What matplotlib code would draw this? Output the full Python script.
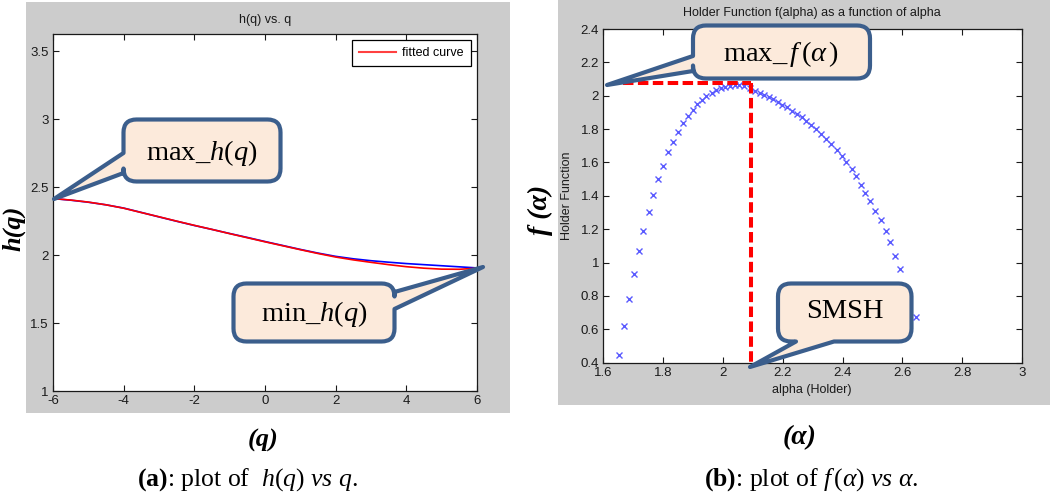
import numpy as np
import matplotlib
matplotlib.use('Agg')
import matplotlib.pyplot as plt
from matplotlib.path import Path
from matplotlib.patches import PathPatch, Rectangle
from matplotlib.ticker import FuncFormatter

plt.rcParams['mathtext.fontset'] = 'custom'
plt.rcParams['mathtext.rm'] = 'Liberation Serif'
plt.rcParams['mathtext.it'] = 'Liberation Serif:italic'
plt.rcParams['mathtext.bf'] = 'Liberation Serif:bold'
plt.rcParams['font.family'] = ['Liberation Sans', 'DejaVu Sans']
plt.rcParams['axes.unicode_minus'] = False

# ---------------- data ----------------
q_values = [-6, -5.5, -5, -4.5, -4, -3.5, -3, -2.5, -2, -1.5, -1, -0.5, 0,
            0.5, 1, 1.5, 2, 2.5, 3, 3.5, 4, 4.5, 5, 5.5, 6]
h_data = [2.415, 2.403, 2.388, 2.369, 2.345, 2.313, 2.280, 2.248, 2.217, 2.188, 2.158, 2.129, 2.099,
          2.070, 2.041, 2.014, 1.990, 1.972, 1.958, 1.947, 1.937, 1.929, 1.921, 1.913, 1.905]
h_fitted = [2.415, 2.404, 2.389, 2.369, 2.344, 2.312, 2.281, 2.249, 2.218, 2.188, 2.157, 2.127, 2.097,
            2.068, 2.039, 2.011, 1.985, 1.964, 1.946, 1.929, 1.914, 1.903, 1.896, 1.895, 1.903]

alpha_values = [1.651, 1.669, 1.686, 1.702, 1.718, 1.734, 1.752, 1.767, 1.784, 1.798,
                1.817, 1.834, 1.851, 1.866, 1.883, 1.900, 1.914, 1.930, 1.945, 1.962,
                1.977, 1.992, 2.008, 2.023, 2.039, 2.054, 2.070, 2.090, 2.107, 2.124,
                2.137, 2.153, 2.168, 2.184, 2.199, 2.215, 2.230, 2.248, 2.264, 2.279,
                2.296, 2.312, 2.328, 2.345, 2.361, 2.380, 2.397, 2.413, 2.430, 2.445,
                2.461, 2.474, 2.491, 2.508, 2.527, 2.545, 2.560, 2.577, 2.592, 2.644]
f_values = [0.446, 0.622, 0.780, 0.930, 1.068, 1.190, 1.302, 1.405, 1.500, 1.581,
            1.661, 1.723, 1.781, 1.835, 1.877, 1.917, 1.949, 1.977, 2.001, 2.019,
            2.035, 2.047, 2.055, 2.061, 2.063, 2.063, 2.059, 2.045, 2.031, 2.019,
            2.005, 1.995, 1.979, 1.963, 1.947, 1.931, 1.911, 1.893, 1.873, 1.851,
            1.827, 1.801, 1.773, 1.741, 1.711, 1.675, 1.639, 1.601, 1.559, 1.518,
            1.465, 1.420, 1.370, 1.311, 1.256, 1.191, 1.122, 1.041, 0.960, 0.676]

alpha_peak = 2.095      # SMSH
f_peak = 2.079          # max f(alpha)
alpha_guide_start = 1.666
f_guide_end = 0.366

h_xticks = [-6, -4, -2, 0, 2, 4, 6]
h_yticks = [1, 1.5, 2, 2.5, 3, 3.5]
f_xticks = [1.6, 1.8, 2.0, 2.2, 2.4, 2.6, 2.8, 3.0]
f_yticks = [0.4, 0.6, 0.8, 1.0, 1.2, 1.4, 1.6, 1.8, 2.0, 2.2, 2.4]

# ---------------- layout ----------------
W, H = 1050, 499
fig = plt.figure(figsize=(W / 100, H / 100), dpi=100)


def fx(px):
    return px / W


def fy(py):
    return 1 - py / H


def panel(x0, y0, x1, y1):
    fig.patches.append(Rectangle((fx(x0), fy(y1)), fx(x1) - fx(x0), fy(y0) - fy(y1),
                                 transform=fig.transFigure, facecolor='#CCCCCC',
                                 edgecolor='none', zorder=-5))


panel(26, 2, 510, 413)
panel(558, 0, 1050, 405)

ax1 = fig.add_axes([fx(53), fy(391), fx(477) - fx(53), fy(34) - fy(391)])
ax2 = fig.add_axes([fx(603.3), fy(362.7), fx(1022) - fx(603.3), fy(29) - fy(362.7)])

fmt = FuncFormatter(lambda v, p: '%g' % round(v, 3))
for ax in (ax1, ax2):
    ax.set_zorder(1)
    ax.set_facecolor('white')
    ax.tick_params(direction='in', top=True, right=True, length=4, width=0.8,
                   labelsize=9.5, pad=3, colors='#1a1a1a')
    for s in ax.spines.values():
        s.set_linewidth(0.9)
        s.set_color('#1a1a1a')
    ax.xaxis.set_major_formatter(fmt)
    ax.yaxis.set_major_formatter(fmt)

# left plot
ax1.plot(q_values, h_data, color='#0000FF', lw=1.2)
red_line, = ax1.plot(q_values, h_fitted, color='#FF0000', lw=1.2)
ax1.set_xlim(-6, 6)
ax1.set_ylim(1, 3.625)
ax1.set_xticks(h_xticks)
ax1.set_yticks(h_yticks)
leg = ax1.legend([red_line], ['fitted curve'], loc='upper right', fancybox=False,
                 edgecolor='black', framealpha=1, fontsize=9, handlelength=3.0,
                 borderaxespad=0.5, borderpad=0.55, handletextpad=0.5)
leg.get_frame().set_linewidth(0.9)
for l in leg.get_lines():
    l.set_color('#FF4040')
    l.set_linewidth(1.5)

# right plot
ax2.plot(alpha_values, f_values, linestyle='none', marker='x', color='#5A5AFF',
         markersize=5, markeredgewidth=1.0)
ax2.plot([alpha_guide_start, alpha_peak], [f_peak, f_peak], color='#FF0000', lw=2.9,
         dashes=(2.6, 1.1), clip_on=False, zorder=5)
ax2.plot([alpha_peak, alpha_peak], [f_peak, f_guide_end], color='#FF0000', lw=2.9,
         dashes=(2.6, 1.1), clip_on=False, zorder=5)
ax2.set_xlim(1.6, 3.0)
ax2.set_ylim(0.4, 2.4)
ax2.set_xticks(f_xticks)
ax2.set_yticks(f_yticks)

# overlay in pixel coordinates
ov = fig.add_axes([0, 0, 1, 1])
ov.set_xlim(0, W)
ov.set_ylim(H, 0)
ov.axis('off')
ov.set_zorder(10)
ov.patch.set_alpha(0)


def callout(x0, y0, x1, y1, r, side, b1, b2, tip):
    verts, codes = [], []

    def move(p):
        verts.append(p); codes.append(Path.MOVETO)

    def line(p):
        verts.append(p); codes.append(Path.LINETO)

    def curve(c, p):
        verts.extend([c, p]); codes.extend([Path.CURVE3, Path.CURVE3])

    move((x0 + r, y0))
    if side == 'top':
        line((b1, y0)); line(tip); line((b2, y0))
    line((x1 - r, y0)); curve((x1, y0), (x1, y0 + r))
    if side == 'right':
        line((x1, b1)); line(tip); line((x1, b2))
    line((x1, y1 - r)); curve((x1, y1), (x1 - r, y1))
    if side == 'bottom':
        line((b2, y1)); line(tip); line((b1, y1))
    line((x0 + r, y1)); curve((x0, y1), (x0, y1 - r))
    if side == 'left':
        line((x0, b2)); line(tip); line((x0, b1))
    line((x0, y0 + r)); curve((x0, y0), (x0 + r, y0))
    verts.append((x0 + r, y0)); codes.append(Path.CLOSEPOLY)
    ov.add_patch(PathPatch(Path(verts, codes), facecolor='#FCEADB', edgecolor='#3B5E8C',
                           lw=3.0, joinstyle='round', zorder=5))


serif = 'Liberation Serif'
callout(123.5, 119.5, 280.5, 181.5, 13, 'left', 153, 173, (54, 199))
ov.text(202, 153, r'max_$h(q)$', fontsize=20.5, family=serif, ha='center', va='center', zorder=6)

callout(233.5, 283.5, 394.5, 341.5, 13, 'right', 292, 309, (483, 267))
ov.text(314, 314, r'min_$h(q)$', fontsize=20.5, family=serif, ha='center', va='center', zorder=6)

callout(693, 25.5, 870, 78.5, 13, 'left', 56, 71, (607, 85))
ov.text(781, 54, r'max_$\,f\,(\alpha\,)$', fontsize=20.5, family=serif, ha='center',
        va='center', zorder=6)

callout(778, 283.5, 911.5, 341.5, 13, 'bottom', 796, 834, (750, 367))
ov.text(845, 312, 'SMSH', fontsize=20.5, family=serif, ha='center', va='center', zorder=6)

# titles and axis labels (MATLAB panel text)
ov.text(265, 20, 'h(q) vs. q', fontsize=9, ha='center', va='center', color='#1a1a1a')
ov.text(812, 13, 'Holder Function f(alpha) as a function of alpha', fontsize=9,
        ha='center', va='center', color='#1a1a1a')
ov.text(567, 196, 'Holder Function', fontsize=9, rotation=90, ha='center', va='center',
        color='#1a1a1a')
ov.text(812, 390, 'alpha (Holder)', fontsize=9, ha='center', va='center', color='#1a1a1a')

# outer labels
ov.text(14, 228, 'h(q)', fontsize=19, family=serif, weight='bold', style='italic',
        rotation=90, ha='center', va='center')
ov.text(540, 210, 'f (α)', fontsize=20, family=serif, weight='bold', style='italic',
        rotation=90, ha='center', va='center')
ov.text(263, 440, '(q)', fontsize=19, family=serif, weight='bold', style='italic',
        ha='center', va='center')
ov.text(800, 438, '(α)', fontsize=20, family=serif, weight='bold', style='italic',
        ha='center', va='center')

# captions
ov.text(247, 480, r'$\mathbf{(a)}$: plot of  $h(q)\ vs\ q$.', fontsize=18.5, family=serif,
        ha='center', va='center')
ov.text(811, 480, r'$\mathbf{(b)}$: plot of $f\,(\alpha)\ vs\ \alpha$.', fontsize=18.5,
        family=serif, ha='center', va='center')

fig.savefig('out.png', dpi=100)
